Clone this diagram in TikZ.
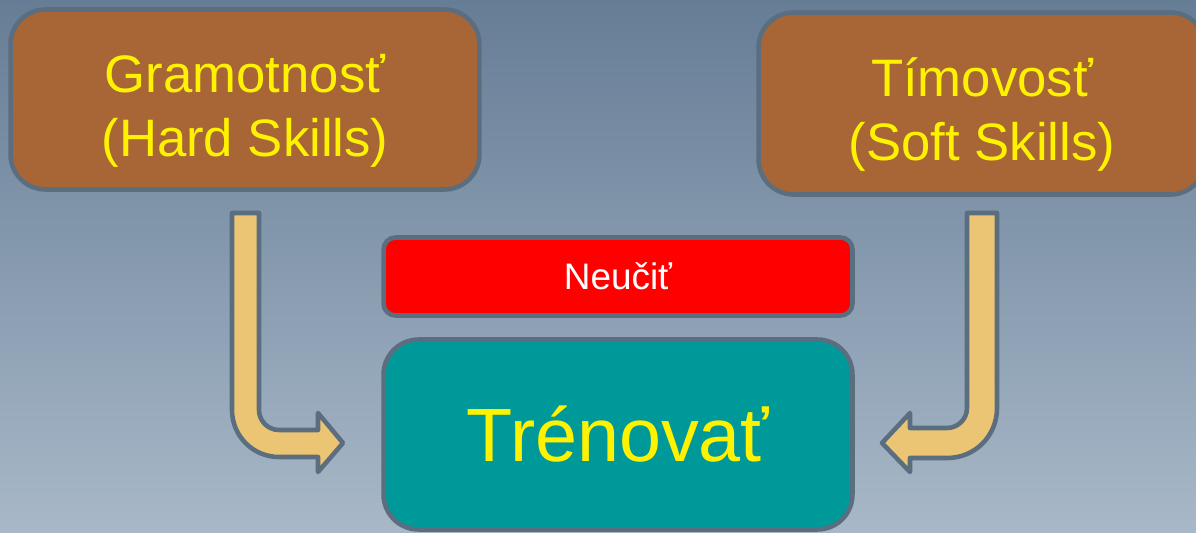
\documentclass[tikz,border=0pt]{standalone}
\usepackage{fontspec}
\setmainfont{Liberation Sans}
\usepackage{tikz}
\usetikzlibrary{positioning,calc}

\definecolor{bgtop}{HTML}{667D96}
\definecolor{bgbottom}{HTML}{A8B8C8}
\definecolor{rimgray}{HTML}{5B6E80}
\definecolor{boxbrown}{HTML}{A86636}
\definecolor{boxteal}{HTML}{009999}
\definecolor{arrowsand}{HTML}{ECC574}

\begin{document}
\begin{tikzpicture}[
    x=0.02cm, y=-0.02cm,
    skillbox/.style={rectangle, draw=rimgray, line width=2.6pt, fill=boxbrown, rounded corners=0.7cm,
        text=yellow, align=center, font=\fontsize{30}{36.4}\selectfont},
    notebox/.style={rectangle, draw=rimgray, line width=2.6pt, fill=red, rounded corners=0.24cm,
        text=white, font=\fontsize{21}{25}\selectfont},
    goalbox/.style={rectangle, draw=rimgray, line width=2.6pt, fill=boxteal, rounded corners=0.7cm,
        text=yellow, font=\fontsize{43}{50}\selectfont},
    bentarrow/.style={draw=rimgray, fill=arrowsand, line width=2.6pt, line join=round}
]

% Background
\fill[top color=bgtop, bottom color=bgbottom] (0,0) rectangle (1196,533);
\useasboundingbox (0,0) rectangle (1196,533);

% Define node positions
\node[skillbox, minimum width=9.38cm, minimum height=3.6cm] (hard) at (245,99.5) {\rule{0pt}{35pt}Gramotnosť\\(Hard Skills)};
\node[skillbox, minimum width=8.94cm, minimum height=3.64cm] (soft) at (982,103.5) {\rule{0pt}{35pt}Tímovosť\\(Soft Skills)};
\node[notebox, minimum width=9.38cm, minimum height=1.56cm] (neucit) at (618,276.5) {Neučiť};
\node[goalbox, minimum width=9.38cm, minimum height=3.8cm] (trenovat) at (618,434.5) {Trénovať};

% Bent arrows into the goal box
\draw[bentarrow] (232,213) -- (259,213) -- (259,410) .. controls (259,421) and (268,430) .. (279,430)
    -- (318,430) -- (318,413) -- (343,443) -- (318,472) -- (318,457) -- (279,457)
    .. controls (253,457) and (232,436) .. (232,410) -- cycle;
\draw[bentarrow] (967,213) -- (997,213) -- (997,408) .. controls (997,436) and (975,458) .. (947,458)
    -- (910,458) -- (910,472) -- (882,443) -- (910,413) -- (910,428) -- (947,428)
    .. controls (958,428) and (967,419) .. (967,408) -- cycle;

\end{tikzpicture}
\end{document}
